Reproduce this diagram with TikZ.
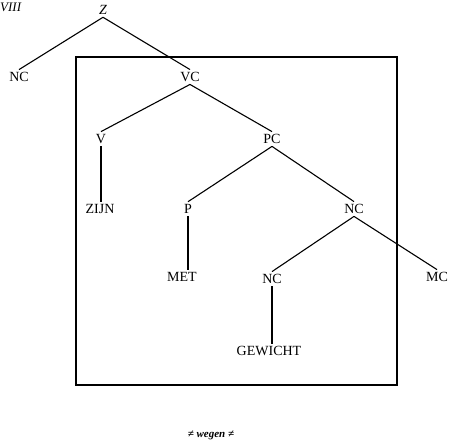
\documentclass[tikz,border=0pt]{standalone}
\usepackage{fontspec}
\setmainfont{Liberation Serif}
\usepackage{tikz}
\begin{document}
\begin{tikzpicture}[
      x=1pt, y=-1pt,
      cat/.style={font=\fontsize{14}{16}\selectfont, inner sep=2.5pt},
      branch/.style={line width=1.1pt, draw=black}
  ]
  \useasboundingbox (0,0) rectangle (450,444);

  % Nodes
  \node (num) [cat, anchor=west, inner sep=0pt, font=\fontsize{13}{15}\selectfont\itshape] at (0,7) {VIII};
  \node (Z) [cat, font=\fontsize{14}{16}\selectfont\itshape] at (103,10) {Z};
  \node (NCa) [cat] at (19,77) {NC};
  \node (VC) [cat] at (190,77) {VC};
  \node (V) [cat] at (101,139) {V};
  \node (PC) [cat] at (272,139) {PC};
  \node (ZIJN) [cat] at (100,209) {ZIJN};
  \node (P) [cat] at (188,209) {P};
  \node (NCb) [cat] at (354,209) {NC};
  \node (MET) [cat] at (182,277) {MET};
  \node (NCc) [cat] at (272,279) {NC};
  \node (MC) [cat] at (437,277) {MC};
  \node (GEW) [cat] at (269,351) {GEWICHT};
  \node (bound) [cat, font=\fontsize{11}{13}\selectfont\itshape\bfseries] at (211,435) {≠ wegen ≠};

  % Box
  \draw [line width=1.1pt] (76,57) rectangle (397,385);

  % Branches
  \draw [branch] (Z.south) -- (NCa.north);
  \draw [branch] (Z.south) -- (VC.north);
  \draw [branch] (VC.south) -- (V.north);
  \draw [branch] (VC.south) -- (PC.north);
  \draw [branch] (V.south) -- (ZIJN.north -| V.south);
  \draw [branch] (PC.south) -- (P.north);
  \draw [branch] (PC.south) -- (NCb.north);
  \draw [branch] (P.south) -- (MET.north -| P.south);
  \draw [branch] (NCb.south) -- (NCc.north);
  \draw [branch] (NCb.south) -- (MC.north);
  \draw [branch] (NCc.south) -- (GEW.north -| NCc.south);

  \end{tikzpicture}
\end{document}
